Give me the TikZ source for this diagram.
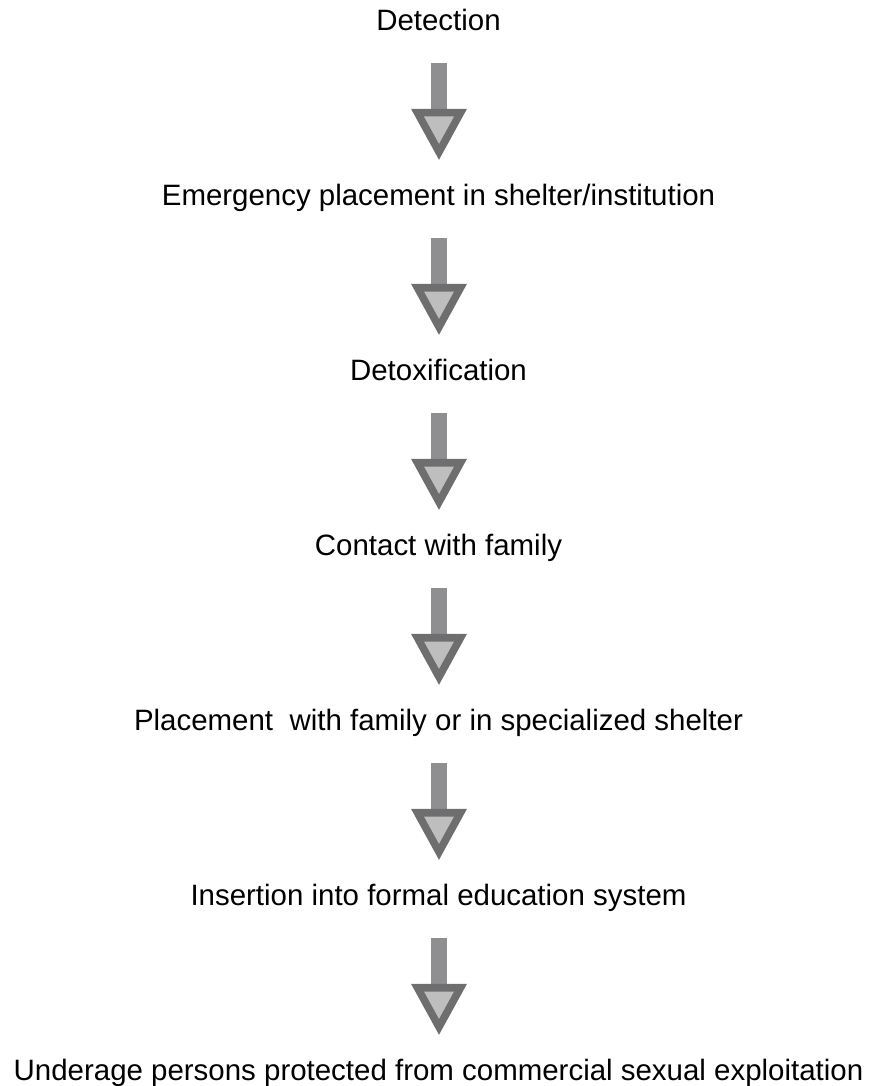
\documentclass[tikz,border=0pt]{standalone}
\usepackage{fontspec}
\setmainfont{Liberation Sans}
\usetikzlibrary{calc}
\definecolor{shaftc}{RGB}{143,143,145}
\definecolor{outc}{RGB}{110,110,110}
\definecolor{innc}{RGB}{190,190,190}
\begin{document}
\begin{tikzpicture}[x=1pt,y=-1pt,
  lbl/.style={anchor=base,inner sep=0pt,text=black,font=\fontsize{29.45}{35}\selectfont}]
\useasboundingbox (0,0) rectangle (873,1086);
\node[lbl] (t0) at (438.5,30.5) {Detection};
\node[lbl] (t1) at (438.5,205.5) {Emergency placement in shelter/institution};
\node[lbl] (t2) at (438.5,380.5) {Detoxification};
\node[lbl] (t3) at (438.5,555.5) {Contact with family};
\node[lbl] (t4) at (438.5,730.5) {Placement~ with family or in specialized shelter};
\node[lbl] (t5) at (438.5,905.5) {Insertion into formal education system};
\node[lbl] (t6) at (438.5,1080.5) {Underage persons protected from commercial sexual exploitation};
\foreach \a in {t0,t1,t2,t3,t4,t5}{
  \begin{scope}[shift={(\a.base)}]
    \fill[shaftc] (-7.65,32.3) rectangle (8.65,80);
    \fill[outc] (-27.5,78.3) -- (28.5,78.3) -- (0.5,129.3) -- cycle;
    \fill[innc] (-14.5,86) -- (15.5,86) -- (0.5,113.3) -- cycle;
  \end{scope}
}
\end{tikzpicture}
\end{document}
